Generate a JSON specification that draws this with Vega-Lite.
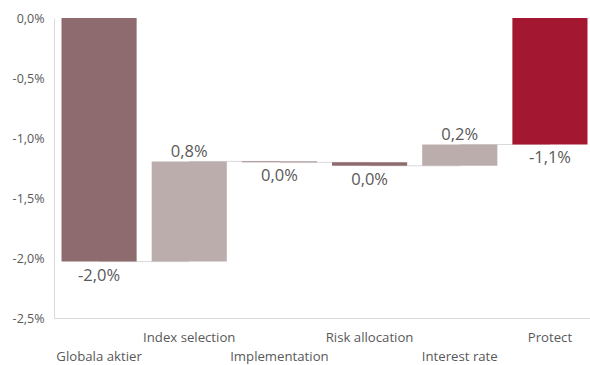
{
  "$schema": "https://vega.github.io/schema/vega-lite/v6.json",
  "width": 536,
  "height": 300,
  "autosize": {"type": "none"},
  "padding": {"left": 54, "top": 18, "right": 0, "bottom": 47},
  "background": "white",
  "config": {
    "view": {"stroke": null},
    "font": "Open Sans",
    "axis": {"labelFont": "Open Sans", "labelColor": "#595959", "domainColor": "#D9D9D9", "ticks": false, "grid": false, "title": null}
  },
  "data": {
    "values": [
      {"cat": "Globala aktier", "start": 0, "end": -2.03, "type": "neg", "label": "-2,0%", "pos": "below", "ly": -2.03, "next": "Index selection"},
      {"cat": "Index selection", "start": -2.03, "end": -1.195, "type": "pos", "label": "0,8%", "pos": "above", "ly": -1.195, "next": "Implementation"},
      {"cat": "Implementation", "start": -1.195, "end": -1.203, "type": "neg", "label": "0,0%", "pos": "below", "ly": -1.203, "next": "Risk allocation"},
      {"cat": "Risk allocation", "start": -1.203, "end": -1.232, "type": "neg", "label": "0,0%", "pos": "below", "ly": -1.232, "next": "Interest rate"},
      {"cat": "Interest rate", "start": -1.232, "end": -1.054, "type": "pos", "label": "0,2%", "pos": "above", "ly": -1.054, "next": "Protect"},
      {"cat": "Protect", "start": 0, "end": -1.054, "type": "total", "label": "-1,1%", "pos": "below", "ly": -1.054, "next": null}
    ]
  },
  "encoding": {
    "x": {
      "field": "cat",
      "type": "nominal",
      "sort": null,
      "scale": {"domain": ["Globala aktier", "Index selection", "Implementation", "Risk allocation", "Interest rate", "Protect"], "range": [0, 541], "paddingInner": 0.167, "paddingOuter": 0.0833},
      "axis": {
        "labelAngle": 0,
        "labelFontSize": 13.2,
        "labelPadding": 13,
        "labelLineHeight": 19,
        "labelExpr": "indexof(['Globala aktier','Implementation','Interest rate'], datum.label) >= 0 ? ['', datum.label] : datum.label"
      }
    }
  },
  "layer": [
    {
      "transform": [{"filter": "datum.next != null"}],
      "mark": {"type": "rule", "color": "#D9D9D9", "strokeWidth": 1},
      "encoding": {
        "x2": {"field": "next"},
        "y": {"field": "end", "type": "quantitative"}
      }
    },
    {
      "mark": {"type": "bar"},
      "encoding": {
        "y": {
          "field": "start",
          "type": "quantitative",
          "scale": {"domain": [-2.5, 0], "nice": false, "zero": false},
          "axis": {
            "values": [0, -0.5, -1, -1.5, -2, -2.5],
            "labelFontSize": 12.5,
            "labelPadding": 10,
            "labelExpr": "replace(replace(format(datum.value, '.1f'), '.', ','), '\u2212', '-') + '%'"
          }
        },
        "y2": {"field": "end"},
        "color": {
          "field": "type",
          "type": "nominal",
          "scale": {"domain": ["neg", "pos", "total"], "range": ["#8E6B6E", "#BCADAD", "#A31830"]},
          "legend": null
        }
      }
    },
    {
      "transform": [{"filter": "datum.pos == 'below'"}],
      "mark": {"type": "text", "baseline": "top", "dy": 6, "fontSize": 16.5, "color": "#595959"},
      "encoding": {
        "y": {"field": "ly", "type": "quantitative"},
        "text": {"field": "label"}
      }
    },
    {
      "transform": [{"filter": "datum.pos == 'above'"}],
      "mark": {"type": "text", "baseline": "bottom", "dy": -1, "fontSize": 16.5, "color": "#595959"},
      "encoding": {
        "y": {"field": "ly", "type": "quantitative"},
        "text": {"field": "label"}
      }
    }
  ]
}
